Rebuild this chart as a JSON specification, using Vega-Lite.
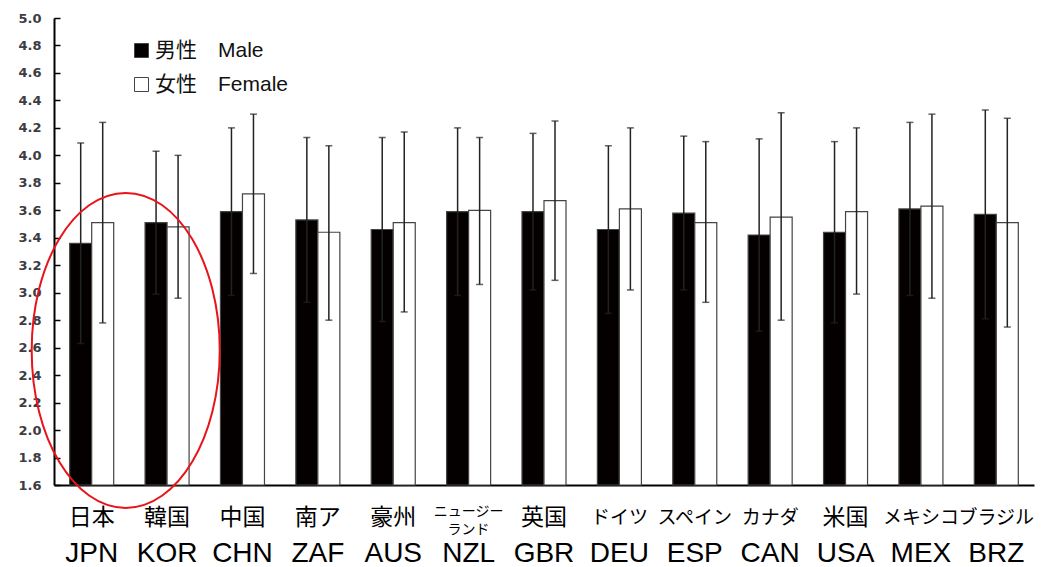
{
  "$schema": "https://vega.github.io/schema/vega-lite/v6.json",
  "width": 980,
  "height": 467,
  "autosize": {"type": "none"},
  "padding": {"left": 54, "top": 18, "right": 17, "bottom": 82},
  "background": "#ffffff",
  "config": {"view": {"stroke": null}, "axisY": {"labelOverlap": false, "labelBound": false, "labelFlush": false}},
  "datasets": {
    "bars": [
      {"en": "JPN", "sex": "Male", "mean": 3.36, "lo": 2.63, "hi": 4.09},
      {"en": "JPN", "sex": "Female", "mean": 3.51, "lo": 2.78, "hi": 4.24},
      {"en": "KOR", "sex": "Male", "mean": 3.51, "lo": 2.99, "hi": 4.03},
      {"en": "KOR", "sex": "Female", "mean": 3.48, "lo": 2.96, "hi": 4.00},
      {"en": "CHN", "sex": "Male", "mean": 3.59, "lo": 2.98, "hi": 4.20},
      {"en": "CHN", "sex": "Female", "mean": 3.72, "lo": 3.14, "hi": 4.30},
      {"en": "ZAF", "sex": "Male", "mean": 3.53, "lo": 2.93, "hi": 4.13},
      {"en": "ZAF", "sex": "Female", "mean": 3.44, "lo": 2.80, "hi": 4.07},
      {"en": "AUS", "sex": "Male", "mean": 3.46, "lo": 2.79, "hi": 4.13},
      {"en": "AUS", "sex": "Female", "mean": 3.51, "lo": 2.86, "hi": 4.17},
      {"en": "NZL", "sex": "Male", "mean": 3.59, "lo": 2.98, "hi": 4.20},
      {"en": "NZL", "sex": "Female", "mean": 3.60, "lo": 3.06, "hi": 4.13},
      {"en": "GBR", "sex": "Male", "mean": 3.59, "lo": 3.02, "hi": 4.16},
      {"en": "GBR", "sex": "Female", "mean": 3.67, "lo": 3.09, "hi": 4.25},
      {"en": "DEU", "sex": "Male", "mean": 3.46, "lo": 2.85, "hi": 4.07},
      {"en": "DEU", "sex": "Female", "mean": 3.61, "lo": 3.02, "hi": 4.20},
      {"en": "ESP", "sex": "Male", "mean": 3.58, "lo": 3.02, "hi": 4.14},
      {"en": "ESP", "sex": "Female", "mean": 3.51, "lo": 2.93, "hi": 4.10},
      {"en": "CAN", "sex": "Male", "mean": 3.42, "lo": 2.72, "hi": 4.12},
      {"en": "CAN", "sex": "Female", "mean": 3.55, "lo": 2.80, "hi": 4.31},
      {"en": "USA", "sex": "Male", "mean": 3.44, "lo": 2.78, "hi": 4.10},
      {"en": "USA", "sex": "Female", "mean": 3.59, "lo": 2.99, "hi": 4.20},
      {"en": "MEX", "sex": "Male", "mean": 3.61, "lo": 2.98, "hi": 4.24},
      {"en": "MEX", "sex": "Female", "mean": 3.63, "lo": 2.96, "hi": 4.30},
      {"en": "BRZ", "sex": "Male", "mean": 3.57, "lo": 2.81, "hi": 4.33},
      {"en": "BRZ", "sex": "Female", "mean": 3.51, "lo": 2.75, "hi": 4.27}
    ],
    "labels": [
      {"en": "JPN", "jp": "日本"},
      {"en": "KOR", "jp": "韓国"},
      {"en": "CHN", "jp": "中国"},
      {"en": "ZAF", "jp": "南ア"},
      {"en": "AUS", "jp": "豪州"},
      {"en": "NZL", "jp": "ニュージー\nランド"},
      {"en": "GBR", "jp": "英国"},
      {"en": "DEU", "jp": "ドイツ"},
      {"en": "ESP", "jp": "スペイン"},
      {"en": "CAN", "jp": "カナダ"},
      {"en": "USA", "jp": "米国"},
      {"en": "MEX", "jp": "メキシコ"},
      {"en": "BRZ", "jp": "ブラジル"}
    ]
  },
  "encoding": {
    "y": {
      "type": "quantitative",
      "scale": {"domain": [1.6, 5.0], "zero": false, "nice": false},
      "axis": {"title": null, "values": [1.6,1.8,2.0,2.2,2.4,2.6,2.8,3.0,3.2,3.4,3.6,3.8,4.0,4.2,4.4,4.6,4.8,5.0], "format": ".1f", "grid": false, "labelOverlap": false, "domainColor": "#000000", "domainWidth": 2, "tickColor": "#000000", "tickSize": -6, "tickWidth": 1.5, "labelFont": "DejaVu Sans", "labelFontWeight": "bold", "labelFontSize": 13, "labelColor": "#3c3c44", "labelPadding": 19}
    }
  },
  "layer": [
    {
      "data": {"name": "bars"},
      "mark": {"type": "bar", "stroke": "#444444", "strokeWidth": 1.2},
      "encoding": {
        "x": {
          "field": "en", "type": "nominal",
          "scale": {"domain": ["JPN","KOR","CHN","ZAF","AUS","NZL","GBR","DEU","ESP","CAN","USA","MEX","BRZ"], "paddingInner": 0.416, "paddingOuter": 0.208},
          "axis": {"title": null, "labels": false, "ticks": false, "domainColor": "#000000", "domainWidth": 2}
        },
        "xOffset": {"field": "sex", "type": "nominal", "scale": {"domain": ["Male","Female"], "paddingInner": 0, "paddingOuter": 0}},
        "y": {"field": "mean", "type": "quantitative"},
        "y2": {"datum": 1.6},
        "color": {
          "field": "sex", "type": "nominal",
          "scale": {"domain": ["Male","Female"], "range": ["#050000","#ffffff"]},
          "legend": {"orient": "none", "legendX": 77, "legendY": 22, "title": null, "symbolType": "square", "symbolSize": 196, "symbolStrokeColor": "#444444", "symbolStrokeWidth": 1, "labelFont": "Liberation Sans, Noto Sans CJK JP", "labelFontSize": 21, "labelColor": "#111111", "labelOffset": 3, "rowPadding": 12, "labelExpr": "datum.value == 'Male' ? '男性\u2003Male' : '女性\u2003Female'"}
        }
      }
    },
    {
      "data": {"name": "bars"},
      "mark": {"type": "rule", "color": "#222222", "strokeWidth": 1.5},
      "encoding": {
        "x": {"field": "en", "type": "nominal"},
        "xOffset": {"field": "sex", "type": "nominal"},
        "y": {"field": "lo", "type": "quantitative"},
        "y2": {"field": "hi"}
      }
    },
    {
      "data": {"name": "bars"},
      "mark": {"type": "tick", "color": "#222222", "size": 7, "thickness": 1.5},
      "encoding": {
        "x": {"field": "en", "type": "nominal"},
        "xOffset": {"field": "sex", "type": "nominal"},
        "y": {"field": "hi", "type": "quantitative"}
      }
    },
    {
      "data": {"name": "bars"},
      "mark": {"type": "tick", "color": "#222222", "size": 7, "thickness": 1.5},
      "encoding": {
        "x": {"field": "en", "type": "nominal"},
        "xOffset": {"field": "sex", "type": "nominal"},
        "y": {"field": "lo", "type": "quantitative"}
      }
    },
    {
      "data": {"name": "labels"},
      "transform": [{"filter": {"field": "en", "oneOf": ["JPN","KOR","CHN","ZAF","AUS","GBR","USA"]}}],
      "mark": {"type": "text", "font": "Noto Sans CJK JP", "fontSize": 23, "color": "#000000", "baseline": "middle", "align": "center", "dy": 33},
      "encoding": {
        "x": {"field": "en", "type": "nominal"},
        "y": {"datum": 1.6},
        "text": {"field": "jp"}
      }
    },
    {
      "data": {"name": "labels"},
      "transform": [{"filter": {"field": "en", "oneOf": ["DEU","ESP","CAN","MEX","BRZ"]}}],
      "mark": {"type": "text", "font": "Noto Sans CJK JP", "fontSize": 19, "color": "#000000", "baseline": "middle", "align": "center", "dy": 33},
      "encoding": {
        "x": {"field": "en", "type": "nominal"},
        "y": {"datum": 1.6},
        "text": {"field": "jp"}
      }
    },
    {
      "data": {"name": "labels"},
      "transform": [{"filter": "datum.en == 'NZL'"}],
      "mark": {"type": "text", "font": "Noto Sans CJK JP", "fontSize": 14, "lineHeight": 18, "lineBreak": "\n", "color": "#000000", "baseline": "middle", "align": "center", "dy": 27},
      "encoding": {
        "x": {"field": "en", "type": "nominal"},
        "y": {"datum": 1.6},
        "text": {"field": "jp"}
      }
    },
    {
      "data": {"name": "labels"},
      "mark": {"type": "text", "font": "Liberation Sans", "fontSize": 28, "color": "#000000", "baseline": "middle", "align": "center", "dy": 69},
      "encoding": {
        "x": {"field": "en", "type": "nominal"},
        "y": {"datum": 1.6},
        "text": {"field": "en"}
      }
    },
    {
      "data": {"values": [{"note": "highlight"}]},
      "mark": {"type": "point", "filled": false, "stroke": "#e8141a", "strokeWidth": 2, "opacity": 1, "size": 99225, "shape": "M -0.381 0 C -0.381 -0.552 -0.114 -1 0.216 -1 C 0.546 -1 0.813 -0.552 0.813 0 C 0.813 0.552 0.546 1 0.216 1 C -0.114 1 -0.381 0.552 -0.381 0 Z"},
      "encoding": {
        "x": {"datum": "JPN"},
        "y": {"datum": 2.58}
      }
    }
  ]
}
